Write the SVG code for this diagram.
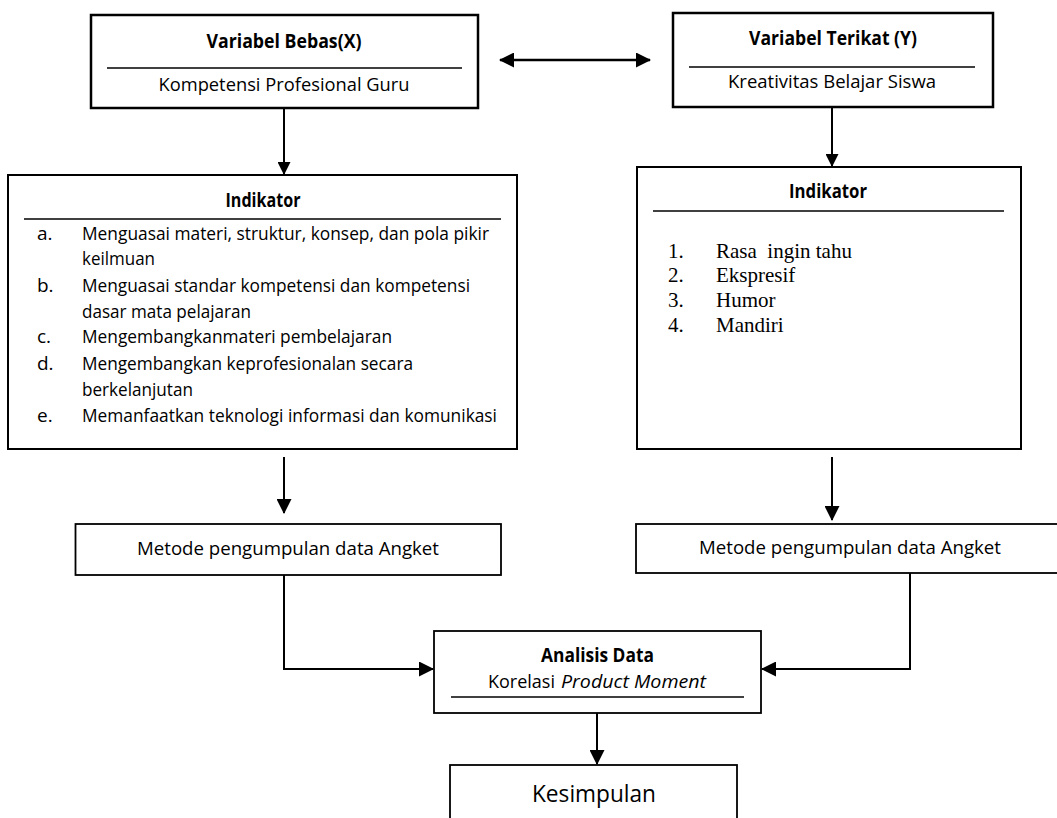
<svg xmlns="http://www.w3.org/2000/svg" width="1057" height="818" viewBox="0 0 1057 818">
<style>
.box{fill:#fff;stroke:#000}
.thick{stroke-width:2.5}
.mid{stroke-width:2}
.thin{stroke-width:1.8}
.sep{stroke:#000;stroke-width:1.3}
.t{font-family:"Open Sans","Noto Sans",sans-serif;font-size:19px;fill:#000}
.b{font-weight:bold}
.c{text-anchor:middle}
.i{font-style:italic}
.s{font-family:"Liberation Serif","Times New Roman",serif;font-size:21px;fill:#000;white-space:pre}
.con{fill:none;stroke:#000;stroke-width:2}
</style>
<defs>
<marker id="ah" viewBox="0 0 15 15" refX="14" refY="7.5" markerWidth="15" markerHeight="15" markerUnits="userSpaceOnUse" orient="auto-start-reverse">
<path d="M0,0 L15,7.5 L0,15 z" fill="#000"/>
</marker>
<marker id="ahs" viewBox="0 0 13 13" refX="12" refY="6.5" markerWidth="13" markerHeight="13" markerUnits="userSpaceOnUse" orient="auto">
<path d="M0,0 L13,6.5 L0,13 z" fill="#000"/>
</marker>
</defs>

<g id="connectors">
<line class="con" x1="500" y1="60" x2="650" y2="60" marker-start="url(#ah)" marker-end="url(#ah)" style="stroke-width:2.5"/>
<line class="con" x1="284" y1="109" x2="284" y2="174" marker-end="url(#ahs)"/>
<line class="con" x1="832" y1="108" x2="832" y2="166" marker-end="url(#ahs)"/>
<line class="con" x1="284" y1="457" x2="284" y2="513" marker-end="url(#ah)"/>
<line class="con" x1="832" y1="457" x2="832" y2="520" marker-end="url(#ah)"/>
<polyline class="con" points="284,575 284,669 433,669" marker-end="url(#ah)"/>
<polyline class="con" points="910,573 910,669 762,669" marker-end="url(#ah)"/>
<line class="con" x1="597" y1="713" x2="597" y2="764" marker-end="url(#ah)"/>
</g>

<g id="var-bebas">
<rect class="box thick" x="91" y="15" width="387" height="93"/>
<text class="t b c" x="284" y="48" textLength="155" lengthAdjust="spacingAndGlyphs">Variabel Bebas(X)</text>
<line class="sep" x1="107" y1="68" x2="462" y2="68"/>
<text class="t c" x="284" y="91" textLength="251" lengthAdjust="spacingAndGlyphs">Kompetensi Profesional Guru</text>
</g>

<g id="var-terikat">
<rect class="box thick" x="673" y="13" width="320" height="94"/>
<text class="t b c" x="833" y="45" textLength="168" lengthAdjust="spacingAndGlyphs">Variabel Terikat (Y)</text>
<line class="sep" x1="689" y1="67" x2="975" y2="67"/>
<text class="t c" x="832" y="88" textLength="208" lengthAdjust="spacingAndGlyphs">Kreativitas Belajar Siswa</text>
</g>

<g id="indikator-x">
<rect class="box mid" x="8" y="175" width="509" height="274"/>
<text class="t b c" x="263" y="207" textLength="75" lengthAdjust="spacingAndGlyphs">Indikator</text>
<line class="sep" x1="24" y1="219" x2="501" y2="219"/>
<text class="t" x="37" y="240">a.</text>
<text class="t" x="82" y="240" textLength="407" lengthAdjust="spacingAndGlyphs">Menguasai materi, struktur, konsep, dan pola pikir</text>
<text class="t" x="82" y="265" textLength="73" lengthAdjust="spacingAndGlyphs">keilmuan</text>
<text class="t" x="37" y="292">b.</text>
<text class="t" x="82" y="292" textLength="388" lengthAdjust="spacingAndGlyphs">Menguasai standar kompetensi dan kompetensi</text>
<text class="t" x="82" y="318" textLength="169" lengthAdjust="spacingAndGlyphs">dasar mata pelajaran</text>
<text class="t" x="37" y="343">c.</text>
<text class="t" x="82" y="343" textLength="310" lengthAdjust="spacingAndGlyphs">Mengembangkanmateri pembelajaran</text>
<text class="t" x="37" y="370">d.</text>
<text class="t" x="82" y="370" textLength="331" lengthAdjust="spacingAndGlyphs">Mengembangkan keprofesionalan secara</text>
<text class="t" x="82" y="396" textLength="111" lengthAdjust="spacingAndGlyphs">berkelanjutan</text>
<text class="t" x="37" y="422">e.</text>
<text class="t" x="82" y="422" textLength="415" lengthAdjust="spacingAndGlyphs">Memanfaatkan teknologi informasi dan komunikasi</text>
</g>

<g id="indikator-y">
<rect class="box mid" x="637" y="167" width="384" height="282"/>
<text class="t b c" x="828" y="198" textLength="78" lengthAdjust="spacingAndGlyphs">Indikator</text>
<line class="sep" x1="653" y1="211" x2="1004" y2="211"/>
<text class="s" x="668" y="258">1.</text>
<text class="s" x="716" y="258">Rasa  ingin tahu</text>
<text class="s" x="668" y="282">2.</text>
<text class="s" x="716" y="282">Ekspresif</text>
<text class="s" x="668" y="307">3.</text>
<text class="s" x="716" y="307">Humor</text>
<text class="s" x="668" y="332">4.</text>
<text class="s" x="716" y="332">Mandiri</text>
</g>

<g id="metode-x">
<rect class="box thin" x="75.5" y="524" width="425.5" height="51"/>
<text class="t c" x="288" y="555" textLength="302" lengthAdjust="spacingAndGlyphs">Metode pengumpulan data Angket</text>
</g>

<g id="metode-y">
<rect class="box thin" x="636" y="524" width="430" height="49"/>
<text class="t c" x="850" y="554" textLength="302" lengthAdjust="spacingAndGlyphs">Metode pengumpulan data Angket</text>
</g>

<g id="analisis">
<rect class="box thin" x="434" y="631" width="327" height="82"/>
<text class="t b c" x="597.5" y="662" textLength="113" lengthAdjust="spacingAndGlyphs">Analisis Data</text>
<text class="t" x="488" y="688" textLength="67" lengthAdjust="spacingAndGlyphs">Korelasi</text>
<text class="t i" x="561" y="688" textLength="145" lengthAdjust="spacingAndGlyphs">Product Moment</text>
<line class="sep" x1="451" y1="697" x2="744" y2="697"/>
</g>

<g id="kesimpulan">
<rect class="box thin" x="450" y="765" width="287" height="70"/>
<text class="t c" x="594" y="802" style="font-size:23px" textLength="124" lengthAdjust="spacingAndGlyphs">Kesimpulan</text>
</g>
</svg>
